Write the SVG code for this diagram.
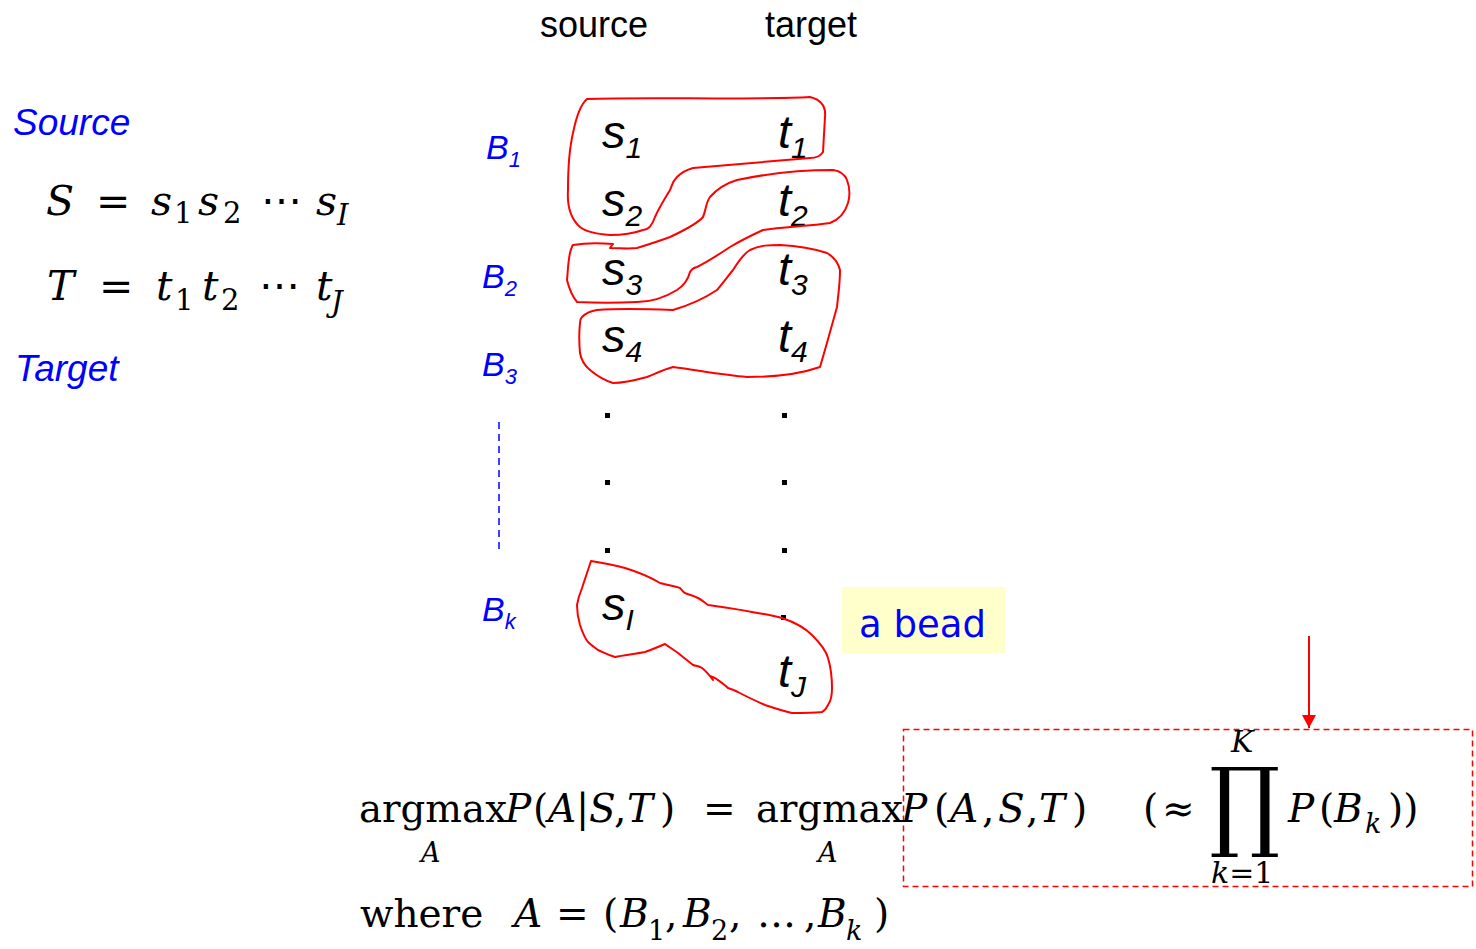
<svg xmlns="http://www.w3.org/2000/svg" width="1476" height="949" viewBox="0 0 1476 949">
<style>
.hdr{font-family:"Liberation Sans",Arial,sans-serif;font-size:36px;fill:#000}
.blue{font-family:"Liberation Sans",Arial,sans-serif;font-style:italic;font-size:37px;fill:#0000FF}
.lbl{font-family:"Liberation Sans",Arial,sans-serif;font-style:italic;font-size:34px;fill:#0000FF}
.sub{font-size:22px}
.w{font-family:"Liberation Sans",Arial,sans-serif;font-style:italic;font-size:47px;fill:#000}
.wsub{font-size:30px}
.m{font-family:"DejaVu Serif","Liberation Serif",serif;fill:#000;font-size:41px}
.e{font-family:"DejaVu Serif","Liberation Serif",serif;fill:#000;font-size:39px}
.i{font-style:italic}
.ms{font-size:29px}
.es{font-size:27px}
.lim{font-size:30px}
.bead{fill:none;stroke:#FF0000;stroke-width:2;stroke-linejoin:round}
</style>
<defs>
<marker id="arr" markerWidth="14" markerHeight="14" refX="13" refY="7" orient="auto" markerUnits="userSpaceOnUse" viewBox="0 0 14 14">
<path d="M0,0 L13,7 L0,14 Z" fill="#FF0000"/>
</marker>
</defs>

<g id="headers">
<text class="hdr" x="540" y="37">source</text>
<text class="hdr" x="765" y="37">target</text>
</g>

<g id="source-def">
<text class="blue" x="13" y="135">Source</text>
<text class="m"><tspan class="i" x="46" y="215">S</tspan><tspan x="96" y="215">=</tspan><tspan class="i" x="151" y="215">s</tspan><tspan class="ms" x="174" y="223">1</tspan><tspan class="i" x="198" y="215">s</tspan><tspan class="ms" x="223" y="223">2</tspan><tspan x="261" y="215">⋯</tspan><tspan class="i" x="316" y="215">s</tspan><tspan class="i ms" x="337" y="225">I</tspan></text>
</g>

<g id="target-def">
<text class="m"><tspan class="i" x="47" y="300">T</tspan><tspan x="99" y="300">=</tspan><tspan class="i" x="156" y="300">t</tspan><tspan class="ms" x="175" y="310">1</tspan><tspan class="i" x="202" y="300">t</tspan><tspan class="ms" x="221" y="310">2</tspan><tspan x="259" y="300">⋯</tspan><tspan class="i" x="316" y="300">t</tspan><tspan class="i ms" x="331" y="312">J</tspan></text>
<text class="blue" x="15" y="381">Target</text>
</g>

<g id="bead-labels">
<text class="lbl" x="486" y="159">B<tspan class="sub" dy="8">1</tspan></text>
<text class="lbl" x="482" y="288">B<tspan class="sub" dy="8">2</tspan></text>
<text class="lbl" x="482" y="376">B<tspan class="sub" dy="8">3</tspan></text>
<text class="lbl" x="482" y="621">B<tspan class="sub" dy="8">k</tspan></text>
<line x1="499" y1="422" x2="499" y2="553" stroke="#0000FF" stroke-width="1.5" stroke-dasharray="7,5"/>
</g>

<g id="words">
<text class="w" x="602" y="148">s<tspan class="wsub" dy="10">1</tspan></text>
<text class="w" x="778" y="148">t<tspan class="wsub" dy="10">1</tspan></text>
<text class="w" x="602" y="216">s<tspan class="wsub" dy="10">2</tspan></text>
<text class="w" x="778" y="216">t<tspan class="wsub" dy="10">2</tspan></text>
<text class="w" x="602" y="285">s<tspan class="wsub" dy="10">3</tspan></text>
<text class="w" x="778" y="285">t<tspan class="wsub" dy="10">3</tspan></text>
<text class="w" x="602" y="352">s<tspan class="wsub" dy="10">4</tspan></text>
<text class="w" x="778" y="352">t<tspan class="wsub" dy="10">4</tspan></text>
<text class="w" x="602" y="620">s<tspan class="wsub" dy="10">I</tspan></text>
<text class="w" x="778" y="687">t<tspan class="wsub" dy="10">J</tspan></text>
<g fill="#000">
<rect x="605" y="413" width="5" height="5"/>
<rect x="782" y="413" width="5" height="5"/>
<rect x="605" y="480" width="5" height="5"/>
<rect x="782" y="480" width="5" height="5"/>
<rect x="605" y="548" width="5" height="5"/>
<rect x="782" y="548" width="5" height="5"/>
<rect x="781" y="615" width="5" height="5"/>
</g>
</g>

<g id="beads">
<path id="bead1" class="bead" d="M587,99 C640,97 760,100 810,97 C822,100 826,108 825,117 L823,152 C820,157 815,158 810,158 L693,168 C686,170 680,174 677,177 C672,182 672,186 670,190 C664,200 659,208 655,217 C652,226 648,230 643,230 C632,234 620,235 610,235 C596,234 586,232 580,227 C570,218 567,205 568,190 C568,168 569,150 573,133 C576,118 580,105 587,99 Z"/>
<path id="bead2" class="bead" d="M573,245 C585,243 600,243 613,244 L610,248 C620,248 628,249 637,248 C650,244 662,240 670,237 C685,230 697,224 703,217 C706,210 706,202 710,197 C718,188 727,183 737,180 C770,173 800,170 833,170 C840,171 845,175 847,180 C850,188 850,196 848,203 C845,213 838,220 830,223 C810,226 785,227 763,230 C750,236 740,241 730,247 C718,255 707,262 697,267 C693,268 691,270 690,272 C688,280 683,286 677,290 C664,298 650,302 637,302 C617,303 597,303 577,302 C572,296 569,288 567,280 C568,270 568,262 570,253 C571,249 572,246 573,245 Z"/>
<path id="bead3" class="bead" d="M582,317 C585,314 590,311 597,310 C620,308 650,309 673,310 C690,305 705,298 717,290 C724,282 728,276 733,270 C738,262 743,254 750,250 C760,245 770,245 780,245 C800,246 815,249 827,253 C834,257 838,262 840,270 C840,285 838,296 837,307 C832,325 826,347 820,367 C800,374 775,377 747,377 C722,375 697,370 673,367 C662,370 655,374 647,377 C636,380 625,383 613,383 C603,380 596,375 590,370 C584,365 581,359 580,353 C579,342 579,332 580,323 C580,320 581,318 582,317 Z"/>
<path id="beadk" class="bead" d="M591,561 C603,563 614,565 625,568 C638,572 650,577 660,583 C667,585 674,586 680,588 C682,590 683,592 685,593 C690,595 694,596 698,598 C702,600 705,603 708,605 C722,607 737,609 752,612 C762,614 772,615 782,618 C794,622 804,627 812,635 C820,643 826,650 828,658 C831,668 832,678 832,688 C832,696 831,701 828,705 C826,709 824,711 822,712 C812,713 802,713 792,713 C783,711 774,708 765,705 C756,701 747,697 738,692 C734,690 731,689 728,688 C724,684 719,681 715,678 L710,676 L713,680 C710,676 706,671 702,668 C699,666 696,666 693,665 C688,661 683,657 678,653 C674,650 669,647 665,644 C658,647 651,650 645,652 C635,654 625,655 615,657 C608,655 603,652 598,650 C594,647 591,645 588,642 C584,637 582,631 580,625 C578,618 577,611 577,605 C578,599 580,593 582,588 C585,579 588,570 591,561 Z"/>
</g>

<g id="bead-note">
<rect x="842" y="587" width="163" height="66" fill="#FFFFCC"/>
<text x="859" y="637" font-family="'DejaVu Sans','Comic Sans MS',sans-serif" font-size="38" fill="#0000FF" textLength="127" lengthAdjust="spacingAndGlyphs">a bead</text>
</g>

<g id="connectors">
<line x1="1309" y1="636" x2="1309" y2="728" stroke="#FF0000" stroke-width="2" marker-end="url(#arr)"/>
</g>

<g id="highlight-box">
<rect x="903.5" y="729.5" width="569" height="157" fill="none" stroke="#FF0000" stroke-width="1.5" stroke-dasharray="6,4"/>
</g>

<g id="equation">
<text class="e" x="359" y="822" textLength="148" lengthAdjust="spacingAndGlyphs">argmax</text>
<text class="e i es" x="421" y="862">A</text>
<text class="e"><tspan class="i" x="505" y="822">P</tspan><tspan x="533" y="822">(</tspan><tspan class="i" x="548" y="822">A</tspan><tspan x="576" y="822">|</tspan><tspan class="i" x="589" y="822">S</tspan><tspan x="614" y="822">,</tspan><tspan class="i" x="627" y="822">T</tspan><tspan x="660" y="822">)</tspan><tspan x="703" y="822">=</tspan></text>
<text class="e" x="756" y="822" textLength="147" lengthAdjust="spacingAndGlyphs">argmax</text>
<text class="e i es" x="818" y="862">A</text>
<text class="e"><tspan class="i" x="901" y="822">P</tspan><tspan x="934" y="822">(</tspan><tspan class="i" x="950" y="822">A</tspan><tspan x="982" y="822">,</tspan><tspan class="i" x="998" y="822">S</tspan><tspan x="1026" y="822">,</tspan><tspan class="i" x="1039" y="822">T</tspan><tspan x="1072" y="822">)</tspan><tspan x="1143" y="822">(</tspan><tspan x="1162" y="822">≈</tspan></text>
<text class="e i lim" x="1231" y="752">K</text>
<text x="1245" y="838" font-family="'DejaVu Serif',serif" font-size="99" text-anchor="middle" fill="#000" transform="translate(1245,0) scale(0.9,1) translate(-1245,0)">∏</text>
<text class="e lim" x="1211" y="883"><tspan font-style="italic">k</tspan>=1</text>
<text class="e"><tspan class="i" x="1288" y="822">P</tspan><tspan x="1319" y="822">(</tspan><tspan class="i" x="1334" y="822">B</tspan><tspan class="i es" x="1365" y="833">k</tspan><tspan x="1388" y="822">))</tspan></text>
<text class="e"><tspan x="360" y="927">where</tspan><tspan class="i" x="514" y="927">A</tspan><tspan x="556" y="927">=</tspan><tspan x="603" y="927">(</tspan><tspan class="i" x="620" y="927">B</tspan><tspan class="es" x="648" y="940">1</tspan><tspan x="665" y="927">,</tspan><tspan class="i" x="683" y="927">B</tspan><tspan class="es" x="711" y="940">2</tspan><tspan x="729" y="927">,</tspan><tspan x="757" y="927">…</tspan><tspan x="804" y="927">,</tspan><tspan class="i" x="818" y="927">B</tspan><tspan class="i es" x="846" y="940">k</tspan><tspan x="874" y="927">)</tspan></text>
</g>
</svg>
